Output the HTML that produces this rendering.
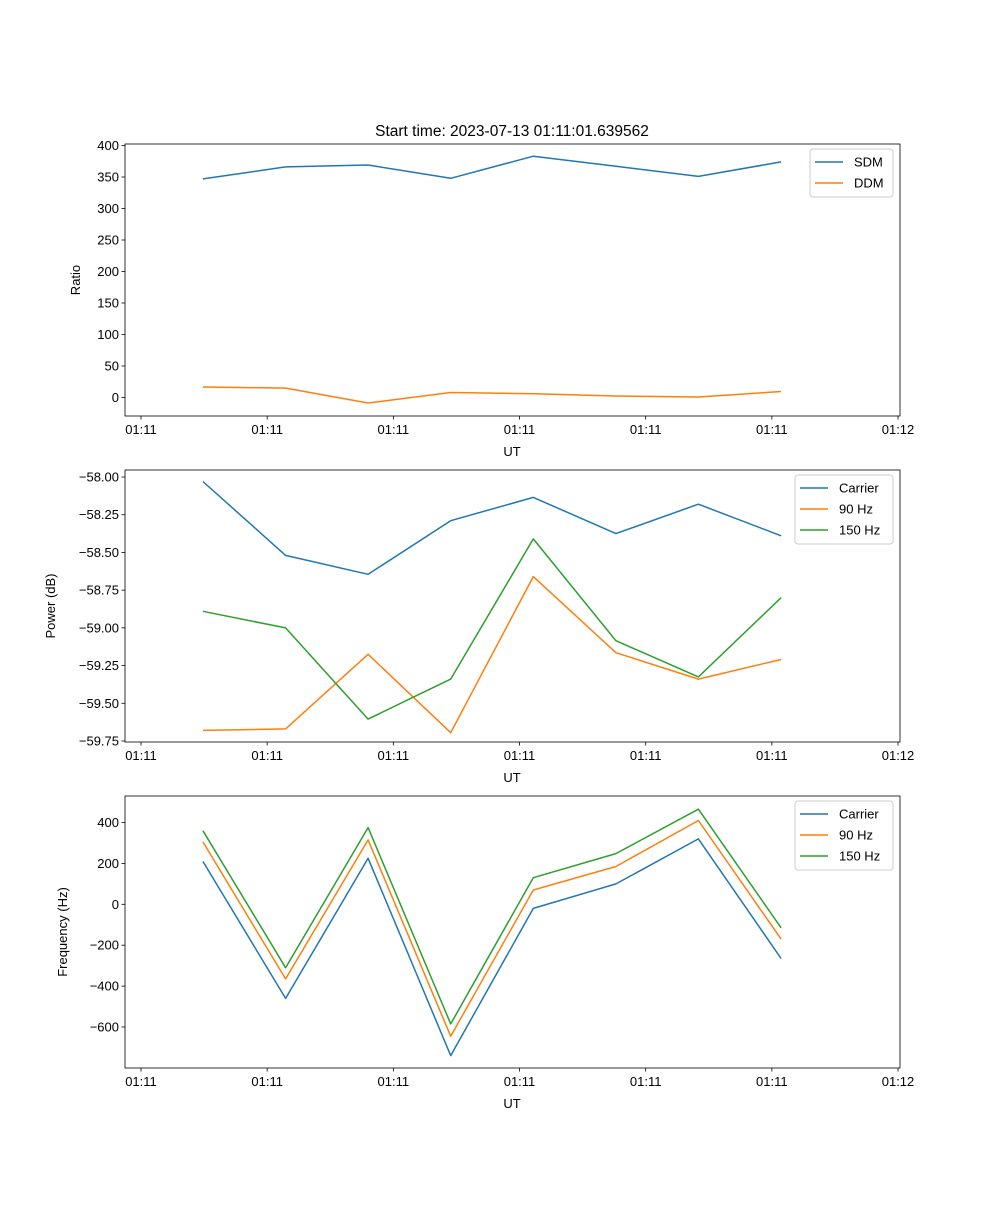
<!DOCTYPE html>
<html><head><meta charset="utf-8"><style>
body{margin:0;background:#fff}
svg{font-family:"Liberation Sans","DejaVu Sans",sans-serif}
</style></head><body>
<svg id="fig" width="1000" height="1200" viewBox="0 0 1000 1200" xmlns="http://www.w3.org/2000/svg"></svg>
<script>
const times=[0.491,1.146,1.80,2.455,3.109,3.764,4.418,5.073];
const xTickLabels=["01:11","01:11","01:11","01:11","01:11","01:11","01:12"];
const sdm=[347,366,369,348,383,367,351,374];
const ddm=[16.7,15,-8.7,8,6,2.4,0.8,9.5];
const pCarrier=[-58.03,-58.52,-58.645,-58.29,-58.135,-58.375,-58.18,-58.39];
const p90=[-59.68,-59.67,-59.175,-59.695,-58.66,-59.165,-59.34,-59.21];
const p150=[-58.89,-59.0,-59.605,-59.34,-58.41,-59.085,-59.325,-58.80];
const fCarrier=[210,-460,225,-740,-20,100,320,-265];
const f90=[305,-365,315,-645,70,185,410,-170];
const f150=[360,-310,375,-585,130,248,465,-115];
const ticks1=[0,50,100,150,200,250,300,350,400];
const ticks2=[-58.00,-58.25,-58.50,-58.75,-59.00,-59.25,-59.50,-59.75];
const ticks3=[-600,-400,-200,0,200,400];
const C=["#1f77b4","#ff7f0e","#2ca02c"];
const NS="http://www.w3.org/2000/svg";
const svg=document.getElementById('fig');
function el(t,a,p){const e=document.createElementNS(NS,t);for(const k in a)e.setAttribute(k,a[k]);(p||svg).appendChild(e);return e;}
const X0=125,X1=900;
function xs(t){return 141+t*126.17;}
function panel(name,top,bot,yv,yp,ticks,fmt,ylabel,ylx,series,legend){
  const g=el('g',{});
  
  
  const ys=v=>yp[0]+(v-yv[0])*(yp[1]-yp[0])/(yv[1]-yv[0]);
  series.forEach((s,i)=>{
    const pts=s.vals.map((v,j)=>xs(times[j]).toFixed(1)+','+ys(v).toFixed(1)).join(' ');
    const pl=el('polyline',{points:pts,fill:'none',stroke:C[i],'stroke-width':1.5,'stroke-linejoin':'round'},g);
    
    
  });
  el('rect',{x:X0,y:top,width:X1-X0,height:bot-top,fill:'none',stroke:'#000','stroke-width':0.8},g);
  xTickLabels.forEach((l,i)=>{const x=xs(i);
    el('line',{x1:x,x2:x,y1:bot,y2:bot+3.5,stroke:'#000','stroke-width':0.8},g);
    const t=el('text',{x:x,y:bot+18,'font-size':13,'text-anchor':'middle'},g);t.textContent=l;
    });
  ticks.forEach(v=>{const y=ys(v);
    el('line',{x1:X0-3.5,x2:X0,y1:y,y2:y,stroke:'#000','stroke-width':0.8},g);
    const t=el('text',{x:X0-6,y:y+4.5,'font-size':13,'text-anchor':'end'},g);t.textContent=fmt(v);
    });
  const xl=el('text',{x:512,y:bot+40,'font-size':13,'text-anchor':'middle'},g);xl.textContent='UT';
  
  const yl=el('text',{x:ylx,y:(top+bot)/2,'font-size':13,'text-anchor':'middle',transform:`rotate(-90 ${ylx} ${(top+bot)/2})`},g);yl.textContent=ylabel;
  
  const lg=el('g',{},g);
  
  el('rect',{x:legend[0],y:top+5,width:X1-7-legend[0],height:series.length*21+6,fill:'#fff',stroke:'#ccc',rx:3},lg);
  series.forEach((s,i)=>{const y=top+18+i*21;
    el('line',{x1:legend[0]+5,x2:legend[0]+33,y1:y,y2:y,stroke:C[i],'stroke-width':1.5},lg);
    const t=el('text',{x:legend[0]+44,y:y+4.5,'font-size':13},lg);t.textContent=s.name;
    });
}
const mn=v=>String(v).replace('-','\u2212');
const tt=el('text',{x:512,y:136,'font-size':15.5,'text-anchor':'middle'});tt.textContent='Start time: 2023-07-13 01:11:01.639562';

panel('ratio-panel',144,416,[0,400],[397.5,145.5],ticks1,v=>mn(v),'Ratio',80,
  [{name:'SDM',vals:sdm},{name:'DDM',vals:ddm}],[810]);
panel('power-panel',470,742,[-58,-59.75],[477,741],ticks2,v=>mn(v.toFixed(2)),'Power (dB)',55,
  [{name:'Carrier',vals:pCarrier},{name:'90 Hz',vals:p90},{name:'150 Hz',vals:p150}],[795]);
panel('frequency-panel',796,1068,[400,-600],[822.5,1027],ticks3,v=>mn(v),'Frequency (Hz)',67,
  [{name:'Carrier',vals:fCarrier},{name:'90 Hz',vals:f90},{name:'150 Hz',vals:f150}],[795]);
</script>
</body></html>
